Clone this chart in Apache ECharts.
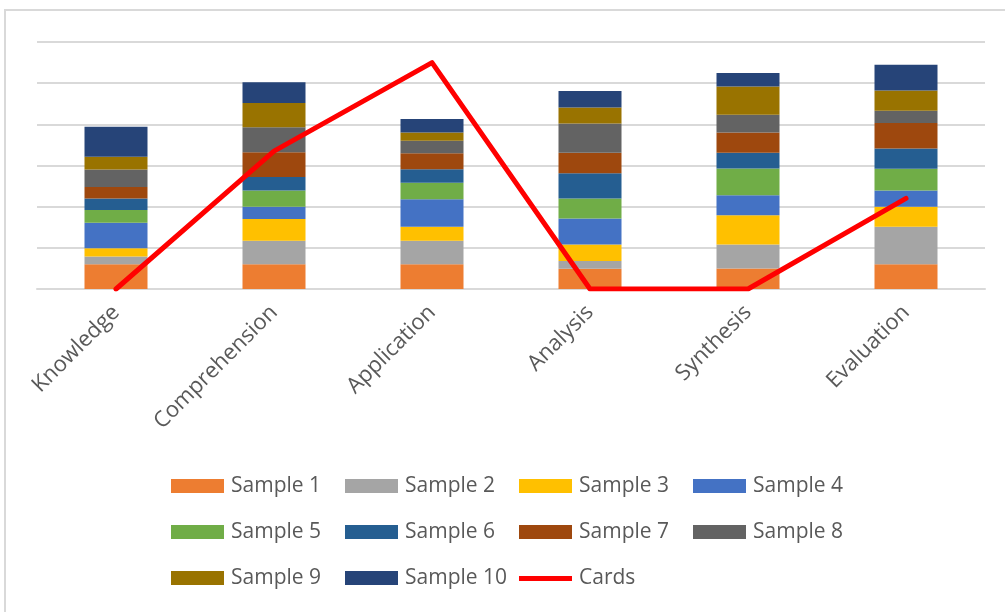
<!DOCTYPE html>
<html>
<head>
<meta charset="utf-8">
<script src="https://cdn.jsdelivr.net/npm/echarts@6/dist/echarts.min.js"></script>
<style>
  html, body { margin: 0; padding: 0; background: #fff; }
  #chart { width: 1005px; height: 612px; }
</style>
</head>
<body>
<div id="chart"></div>
<script>
// Bloom's taxonomy levels on the category axis
const categories = ['Knowledge', 'Comprehension', 'Application', 'Analysis', 'Synthesis', 'Evaluation'];

// Stacked sample contributions per level
const sample1  = [6.0, 6.0, 6.0, 4.9, 5.0, 6.0];
const sample2  = [1.9, 5.7, 5.7, 1.9, 5.8, 9.1];
const sample3  = [2.0, 5.3, 3.4, 4.0, 7.1, 4.9];
const sample4  = [6.2, 3.0, 6.7, 6.3, 4.9, 3.9];
const sample5  = [3.1, 3.9, 4.0, 4.9, 6.5, 5.3];
const sample6  = [2.8, 3.3, 3.3, 6.1, 3.8, 4.9];
const sample7  = [2.8, 6.0, 3.9, 5.0, 4.9, 6.2];
const sample8  = [4.2, 6.1, 3.0, 7.1, 4.3, 3.0];
const sample9  = [3.1, 5.9, 2.0, 3.9, 6.9, 4.9];
const sample10 = [7.3, 5.0, 3.3, 4.0, 3.3, 6.3];

// Cards line
const cards = [0, 33.5, 55, 0, 0, 22];

const sampleNames = ['Sample 1', 'Sample 2', 'Sample 3', 'Sample 4', 'Sample 5',
                     'Sample 6', 'Sample 7', 'Sample 8', 'Sample 9', 'Sample 10'];
const sampleData = [sample1, sample2, sample3, sample4, sample5,
                    sample6, sample7, sample8, sample9, sample10];
const sampleColors = ['#ED7D31', '#A5A5A5', '#FFC000', '#4472C4', '#70AD47',
                      '#255E91', '#9E480E', '#636363', '#997300', '#264478'];

const FONT = '"Open Sans", Lato, sans-serif';
const TEXT = '#595959';

const barSeries = sampleNames.map((name, i) => ({
  name,
  type: 'bar',
  stack: 'samples',
  barWidth: 63,
  data: sampleData[i],
  itemStyle: { color: sampleColors[i] }
}));

// Legend entries: plain rectangles for the samples, a thick stroke for the line
const legendData = sampleNames.map(name => ({ name, icon: 'rect' })).concat([
  { name: 'Cards', icon: 'path://M0,0 M0,5 L53,5 L53,10 L0,10 Z M53,14' }
]);

const chart = echarts.init(document.getElementById('chart'), null, { renderer: 'canvas' });

chart.setOption({
  animation: false,
  backgroundColor: '#fff',
  textStyle: { fontFamily: FONT },
  graphic: [
    {
      type: 'polyline',
      shape: { points: [[5, 612], [5, 10], [1005, 10]] },
      style: { stroke: '#d9d9d9', lineWidth: 2, fill: null },
      silent: true
    }
  ],
  grid: { left: 37, right: 20, top: 42, bottom: 323, containLabel: false },
  xAxis: {
    type: 'category',
    data: categories,
    axisLine: { show: true, lineStyle: { color: '#d9d9d9', width: 2 } },
    axisTick: { show: false },
    axisLabel: {
      rotate: 45,
      margin: 20,
      color: TEXT,
      fontSize: 22,
      fontFamily: FONT,
      interval: 0
    }
  },
  yAxis: {
    type: 'value',
    min: 0,
    max: 60,
    interval: 10,
    axisLabel: { show: false },
    axisLine: { show: false },
    axisTick: { show: false },
    splitLine: { lineStyle: { color: '#d9d9d9', width: 2 } }
  },
  legend: {
    left: 171,
    top: 466,
    padding: 0,
    width: 700,
    itemWidth: 53,
    itemHeight: 14,
    itemGap: 6,
    data: legendData,
    textStyle: {
      color: TEXT,
      fontSize: 21,
      fontFamily: FONT,
      width: 108,
      height: 40,
      lineHeight: 40,
      padding: [0, 0, 0, 2]
    }
  },
  series: barSeries.concat([
    {
      name: 'Cards',
      type: 'line',
      data: cards,
      symbol: 'none',
      z: 10,
      lineStyle: { color: '#FF0000', width: 5, cap: 'round', join: 'round' },
      itemStyle: { color: '#FF0000' }
    }
  ])
});
</script>
</body>
</html>
